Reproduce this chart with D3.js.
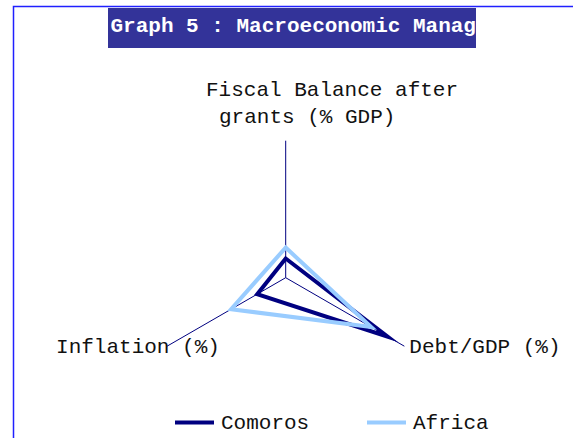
<!DOCTYPE html>
<html>
<head>
<meta charset="utf-8">
<script src="https://cdn.jsdelivr.net/npm/d3@7"></script>
<style>
  body { margin: 0; background: #fff; }
  svg { display: block; }
  text { font-family: "Liberation Mono", "DejaVu Sans Mono", monospace; }
</style>
</head>
<body>
<svg width="573" height="438"></svg>
<script>
// axes of the radar, clockwise from the top
var axes = ["Fiscal Balance after grants (% GDP)", "Debt/GDP (%)", "Inflation (%)"];
var seriesNames = ["Comoros", "Africa"];
// values, on a 0-100 radial scale
var comoros = [14, 86, 24];
var africa = [22, 72, 46];
var colors = ["#000080", "#99ccff"];

var svg = d3.select('svg');

var cx = 285.7, cy = 277.7;
var rScale = d3.scaleLinear().domain([0, 100]).range([0, 137]);
var angle = d3.scaleLinear().domain([0, axes.length]).range([0, 2 * Math.PI]);

function pt(i, v) {
    var a = angle(i);
    return [cx + rScale(v) * Math.sin(a), cy - rScale(v) * Math.cos(a)];
}

// frame
svg.append("path")
    .attr("d", "M13.5,438 L13.5,6.5 L573,6.5")
    .attr("fill", "none")
    .attr("stroke", "#2020ff")
    .attr("stroke-width", 1.5);

// title
svg.append("clipPath").attr("id", "titleclip")
    .append("rect").attr("x", 108).attr("y", 8).attr("width", 368).attr("height", 40);
svg.append("rect")
    .attr("x", 108).attr("y", 8).attr("width", 368).attr("height", 40)
    .attr("fill", "#333399");
svg.append("text")
    .attr("clip-path", "url(#titleclip)")
    .attr("x", 110.5).attr("y", 31.5)
    .style("font-size", "21px")
    .style("font-weight", "bold")
    .attr("fill", "#fff")
    .attr("xml:space", "preserve")
    .text("Graph 5 : Macroeconomic Management");

// axis lines
axes.forEach(function(d, i) {
    var e = pt(i, 100);
    svg.append("line")
        .attr("x1", cx).attr("y1", cy)
        .attr("x2", e[0]).attr("y2", e[1])
        .attr("stroke", "#000080")
        .attr("stroke-width", 1);
});

// axis labels
var top0 = pt(0, 100), right1 = pt(1, 100), left2 = pt(2, 100);
svg.append("text")
    .attr("x", top0[0] - 79.7).attr("y", top0[1] - 45)
    .style("font-size", "21px").attr("fill", "#111")
    .text("Fiscal Balance after");
svg.append("text")
    .attr("x", top0[0] - 66.7).attr("y", top0[1] - 18)
    .style("font-size", "21px").attr("fill", "#111")
    .text("grants (% GDP)");
svg.append("text")
    .attr("x", right1[0] + 5).attr("y", right1[1] + 6.5)
    .style("font-size", "21px").attr("fill", "#111")
    .text("Debt/GDP (%)");
svg.append("text")
    .attr("x", left2[0] - 111).attr("y", left2[1] + 7)
    .style("font-size", "21px").attr("fill", "#111")
    .text("Inflation (%)");

// series
var radial = d3.lineRadial()
    .angle(function(d, i) { return angle(i); })
    .radius(function(d) { return rScale(d); })
    .curve(d3.curveLinearClosed);

[comoros, africa].forEach(function(vals, s) {
    svg.append("path")
        .attr("transform", "translate(" + cx + "," + cy + ")")
        .attr("d", radial(vals))
        .attr("fill", "none")
        .attr("stroke", colors[s])
        .attr("stroke-width", 4)
        .attr("stroke-linejoin", "miter")
        .attr("stroke-miterlimit", 10);
});

// legend
var legendX = [175, 367];
seriesNames.forEach(function(name, s) {
    svg.append("line")
        .attr("x1", legendX[s]).attr("x2", legendX[s] + 39)
        .attr("y1", 422.5).attr("y2", 422.5)
        .attr("stroke", colors[s])
        .attr("stroke-width", 4);
    svg.append("text")
        .attr("x", legendX[s] + 46).attr("y", 429)
        .style("font-size", "21px").attr("fill", "#111")
        .text(name);
});
</script>
</body>
</html>
